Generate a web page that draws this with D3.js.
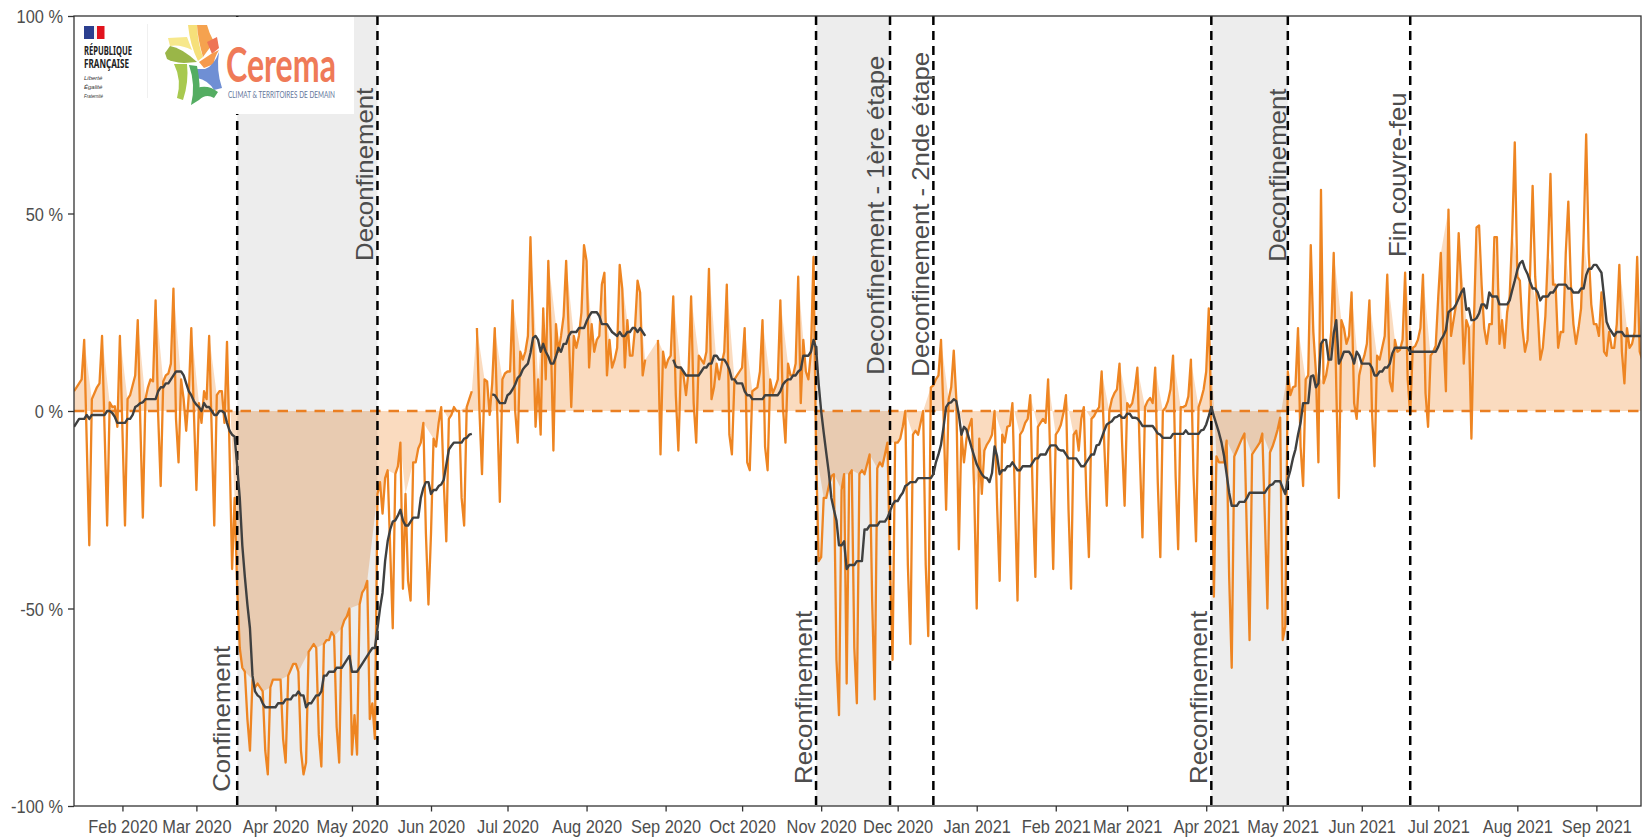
<!DOCTYPE html>
<html><head><meta charset="utf-8">
<script src="https://cdn.jsdelivr.net/npm/d3@7"></script>
<style>html,body{margin:0;padding:0;background:#fff;overflow:hidden}svg{display:block}text{font-family:"Liberation Sans",Arial,sans-serif}</style>
</head><body><svg id="c" width="1643" height="838"></svg>
<script>
const firstDay = Date.UTC(2020,0,13);
const lastDay = Date.UTC(2021,8,18,12);
// daily values, one line per week (Monday to Sunday), starting Monday 13 Jan 2020
const orangeValues = [
5,6,7,8,18,-8,-34,
3,4.5,6,7,19,-5,-29,
2.2,1,1.2,-4,19,-5,-29,
3,4,6.5,9,23,-3,-27,
3,6,8,7.5,28,-1,-19,
7.5,9,9.5,12,31,-2,-13,
8,3,-5,4,21,0,-20,
2,-3,5,3,19,-5,-29,
4,5,5,-3,17.5,-10,-40,
-22,-45,-60,-65,-66,-78,-86,
-68,-70,-69,-70,-71,-86,-92,
-70,-68,-68,-68,-68,-83,-89,
-67,-65.5,-64,-64,-66,-86,-92,
-89,-61,-60,-59,-60,-82,-90,
-59,-58,-58,-56,-57,-80,-89,
-55,-53,-52,-50,-87,-77,-87,
-49,-46,-45,-43,-78,-74,-83,
-21,-18,-26,-17,-15,-35,-55,
-16,-14,-8,-45,-21,-43,-48,
-13,-13,-9.5,-8,-3,-31,-49,
-31,-7,-9,-3,1,-18,-33,
-2,-1,1,0,0,-22,-29,
1,3,5,null,21,0,-16,
8,7.5,-1,7,21,-1,-23,
8,9.5,10,10,28,0,-8,
15,13,15,19,44,20,-4,
8,-6,26,8,38,18,-10,
22,15,19,24,38,20,1,
19,16,19,25,42,38,11,
22,15,18,19,32,35,9,
18,11,13,16,37,31,11,
23,14,14,21,33,30,9,
13,null,null,null,null,18,-11,
15,11,13,14,29,4,-10,
11,9,4,10,29,2,-8,
14,13,12,15,36,3,6,
12,8,12,15,32,-6,-11,
8,9,10,11,21,-13,-15,
5,5.5,6,10,23,-9,-15,
8,4.5,6,8,28,1,-8,
12,9,9,12,34,2,18,
10,8,15,39,-10,-38,-37,
-22,-22,-19,-16.5,-16,-63,-77,
-20,-16,-69,-16,-15,-60,-74,
-16,-15,-16,-13.5,-11,-48,-73,
-14.5,-13,-14,-11,-8,-39,-63,
-8,-8,-7,-4,0,-39,-59,
-6,-5,-6,-3,0,-39,-57,
6,6.5,8,9,18,-1,-25,
3,6,15.3,3,-35,-5.5,-13,
-7,-4,-2,-20,-50,-7,-21,
-10,-8.5,-7.5,-6,0,-24,-43,
-6,-8,-4,-3.7,2,-22.5,-48,
-6,-5,-3,-2,4,-22,-42,
-4,-3,-2,-3,8,-16,-40,
-6,-5,-3.5,-0.5,4,-25,-45,
-6,-5,-10,-2,1,-21.5,-37,
-2,-1.3,0,1,10,-8,-24,
0,3,4.5,5.5,12,-8,-24,
2,1,2,5.5,11,-12,-32,
1,2.5,3.3,2,11,-18,-37,
0,0.8,2.5,5.5,14,-16.5,-35,
1,1,1.4,3.7,13,-16,-33,
1,3,5.5,10,26,-4,-47,
-11.5,-13,-13,-13,-7.5,-42,-65,
-11.5,-10,-8.5,-7,-5.7,-33,-58,
-11,-10,-9,-8,-5.7,-27,-50,
-10.5,-9,-7,-4.7,-1.7,-58,-54.5,
10,4,6,6.3,21,-9,-19,
8,9,42,20,10,-13,56,
7,9,13,20,40,6,-22,
23,21,17,19,30,2,-2,
9,12,14,17,28,0,-14,
14,13,16,19,34.5,7.5,5,
18,15,15.5,18,35,8,-1,
16,16.5,18,21,34.5,4.5,-4,
14,15,16.5,29,40,19,5,
51,19,23,27,45,32,12,
23,21,-7,23,46.5,47,32,
21,17,22,22,44,44,17,
23,16,25,29,45,68,34,
33,21,15,18,35,57,34,
25,13,16,24,40,60,32,
32,16,20,20,40,53,32,
22,17,21,26,44,70,40,
27,22,22,19,30,15,14,
20,16,16,22,37,15,7,
21,16,17,20,39,15,13
];
const blackValues = [
-4,-3,-2,-2,-2,-1,-2,
-1,-1,-1,-1,-1,-1,0,
0,-0.5,-1.5,-3,-3,-3,-3,
-2,-2,-1,1,1.4,2,2.2,
3,3,3,3,3,5,6,
6,7,7,8,9,10,10,
10,9,7,5,4,2.5,1.6,
1,0,2,1,1,0,-1,
-1,0,0,-0.5,-3,-5,-6,
-6.5,-14,-22,-34,-42,-49,-55,
-67,-71,-72,-72.5,-74,-75,-75,
-75,-75,-75,-74,-74,-74,-73,
-73,-73,-72,-72,-71,-72,-72,
-75,-74,-74,-73,-72,-72,-71,
-67,-67,-66,-66,-66,-65,-65,
-65,-64,-63,-62,-66,-66,-66,
-65,-64,-63,-62,-61,-60,-60,
-55,-50,-46,-38,-33,-30,-28,
-27.7,-26.5,-25,-27.7,-29,-29,-28,
-27,-27,-27,-22,-19.5,-18,-18,
-21,-20,-20,-19,-18.6,-17.4,-13.6,
-9.8,-8.8,-8,-8,-8,-8,-7,
-6.8,-6,-5.8,null,null,null,null,
null,null,null,4.2,4,3,2,
2,2,4,4.5,5.5,6.7,8.4,
9,10.5,11.3,12,14.7,18.5,19,
18,15,17,15,13.8,12,12,
13.8,16,15,17,17,19,20,
20,20,21,21,21,22.7,24,
25,25,25,24,22,22,22,
21,20,19.5,19,20,19,19,
20,20,21,21,20,21,20,
19,null,null,null,null,null,null,
null,null,null,null,13,11.3,11,
11,10,9,9,9,9,9,
9,10,11,11,12,12,14,
14,13,13,13,12,10.5,8,
8,7,7,7,5,4,4,
3,3,3,3,3,4,4,
4,4,4,4,5,6.7,7.5,
8,8,9,9,10,10.5,14,
14,14,15,18,16,7,0,
-5.5,-10.6,-15.6,-22,-25,-27.7,-34,
-34,-33,-40,-39,-39,-39,-38,
-38,-38,-30,-30,-29,-29,-29,
-29,-28,-28,-28,-27,-25.4,-23.7,
-22.8,-22.8,-21.6,-20.7,-19,-18.6,-18,
-18,-18,-17,-17,-17,-17,-17,
-17,-16,-13,-11,-8.5,-4,1,
2,2.2,3,2.5,-1,-6,-4,
-4.7,-7,-9.3,-11.4,-13.5,-14.8,-16,
-16.8,-17,-18,-15.7,-9,-11.5,-16,
-15,-15,-14,-14,-13,-14,-15,
-15,-14,-14,-14,-14,-13,-12,
-12,-11,-11,-11,-9.7,-8.7,-8.7,
-8.7,-9.7,-10,-10,-11,-12,-12,
-12,-12,-13,-14,-14,-13,-12,
-11,-11,-8.7,-8.5,-6.8,-5,-3.4,
-3,-2.6,-1.7,-1.5,-1,-1.7,-1.7,
-0.7,-0.7,-1.7,-1.7,-1.9,-2.7,-3.8,
-3.8,-3.8,-3.8,-3.8,-4.7,-5.7,-6,
-6.8,-6.8,-6.8,-6.8,-5.8,-5.8,-5.8,
-5.8,-5.8,-4.9,-5.8,-5.8,-5.8,-5.8,
-5.8,-4.9,-4.7,-3.4,-1.3,1,-1.3,
-3.4,-5.5,-8,-11.4,-16,-20.7,-24,
-24,-24,-23,-23,-23,-22,-20.7,
-20.7,-20.7,-20.7,-20.7,-20.7,-20.7,-19.6,
-18.8,-18.6,-17.8,-17.8,-17.8,-19.5,-21,
-17.3,-15,-12,-9.7,-6,-3,2,
2,2,8.7,9,6,7,17,
18,18,13,13,19.7,23,12,
13.3,15,15,15,14,12,15,
14,12,12,12,12,11,9,
9,10,10,11,11,12,14.6,
16,16,16,16,16,16,15,
15,15,15,15,15,15,15,
15,15,15,16.3,18,19,20.5,
25,25.6,26,27,28.5,30,31,
25.6,26,23,23,23.5,24.7,27,
27,26,30,29,29,29,27,
27,27,27,28,30.6,33,35.7,
37.4,38,36,34.7,32.7,31,31,
30,28,29,29,29,30,30,
31,32,32,32,32,31,31,
30,30,30,31,31,34.4,36,
36,37,37,36,35,29,22.6,
21,20,19,20,20,20,19,
19,19,19,19,19,19,19
];
// days left out of the shaded ribbon, besides week-ends
const fillSkipDays = ["2020-04-13","2020-05-01","2020-05-08","2020-05-21","2020-06-01","2020-07-14","2020-11-11","2020-12-25","2021-01-01","2021-05-13","2021-07-14"];
const fillKeepDays = ["2020-08-29","2021-09-18","2021-09-19"];
const shadedFrom = ["2020-03-17","2020-10-30","2021-04-03"];
const shadedTo = ["2020-05-11","2020-11-28","2021-05-03"];
const eventDays = ["2020-03-17","2020-05-11","2020-10-30","2020-11-28","2020-12-15","2021-04-03","2021-05-03","2021-06-20"];
const eventLabels = ["Confinement","Deconfinement","Reconfinement","Deconfinement - 1ère étape","Deconfinement - 2nde étape","Reconfinement","Deconfinement","Fin couvre-feu"];
const eventLabelFoot = [-96.4,38.0,-94.4,9.2,8.7,-94.4,37.8,39];
const eventLabelGap = [7.5,4.5,4.5,6.5,4.5,4.5,2,4.5];
const yTicks = [-100,-50,0,50,100];
const xTickLabels = ["Feb 2020","Mar 2020","Apr 2020","May 2020","Jun 2020","Jul 2020","Aug 2020","Sep 2020","Oct 2020","Nov 2020","Dec 2020","Jan 2021","Feb 2021","Mar 2021","Apr 2021","May 2021","Jun 2021","Jul 2021","Aug 2021","Sep 2021"];

const L=74,R=1641,T=16,B=806;
const day = s => new Date(s+"T00:00:00Z");
const iso = d3.utcFormat("%Y-%m-%d");
const fmt = d3.utcFormat("%b %Y"), parseM = d3.utcParse("%b %Y");
const x = d3.scaleUtc().domain([firstDay,lastDay]).range([L,R]);
const y = d3.scaleLinear().domain([-100,100]).range([B,T]);
const days = orangeValues.map((_,i)=>d3.utcDay.offset(new Date(firstDay),i));
const svg = d3.select("#c");
svg.append("defs").append("clipPath").attr("id","p").append("rect").attr("x",L).attr("y",T).attr("width",R-L).attr("height",B-T);
const plot = svg.append("g").attr("clip-path","url(#p)");

const orangeLine = "#ee8522", darkLine="#3f4040";
const ribbon = days.map((d,i)=>({d,v:orangeValues[i]})).filter(o=>{
  if(o.v==null) return false;
  const k=iso(o.d), w=o.d.getUTCDay();
  if(fillKeepDays.includes(k)) return true;
  return w!==0 && w!==6 && !fillSkipDays.includes(k);
});
plot.append("path").attr("d",d3.area().x(o=>x(o.d)).y0(y(0)).y1(o=>y(o.v))(ribbon)).attr("fill","#f0882a").attr("fill-opacity",.3);
plot.selectAll("rect.g").data(shadedFrom).join("rect").attr("class","g")
  .attr("x",d=>x(day(d))).attr("width",(d,i)=>x(day(shadedTo[i]))-x(day(d))).attr("y",T).attr("height",B-T)
  .attr("fill","#000").attr("fill-opacity",.07);
const line = vals => d3.line().defined((_,i)=>vals[i]!=null).x((_,i)=>x(days[i])).y((_,i)=>y(vals[i]))(days);
plot.append("path").attr("d",line(orangeValues)).attr("fill","none").attr("stroke",orangeLine).attr("stroke-width",2.3).attr("stroke-linejoin","round");
plot.append("line").attr("x1",L).attr("x2",R).attr("y1",y(0)).attr("y2",y(0)).attr("stroke","#ea7f22").attr("stroke-width",2.5).attr("stroke-dasharray","10.5 8");
plot.selectAll("line.v").data(eventDays).join("line").attr("class","v")
  .attr("x1",d=>x(day(d))).attr("x2",d=>x(day(d))).attr("y1",T).attr("y2",B)
  .attr("stroke","#000").attr("stroke-width",2.5).attr("stroke-dasharray","9 6");
plot.append("path").attr("d",line(blackValues)).attr("fill","none").attr("stroke",darkLine).attr("stroke-width",2.4).attr("stroke-linejoin","round");

// axes
const ax = svg.append("g").attr("transform",`translate(0,${B})`)
  .call(d3.axisBottom(x).tickValues(xTickLabels.map(parseM)).tickFormat(fmt).tickSizeOuter(0).tickSize(5.5));
const ay = svg.append("g").attr("transform",`translate(${L},0)`)
  .call(d3.axisLeft(y).tickValues(yTicks).tickFormat(d=>d+" %").tickSizeOuter(0).tickSize(6));
[ax,ay].forEach(a=>{a.select(".domain").remove();a.selectAll("line").attr("stroke","#333").attr("stroke-width",1.3);
  a.selectAll("text").attr("fill","#4d4d4d").style("font-size","16.4px").style("font-family",'"Liberation Sans",Arial,sans-serif');});
ax.selectAll("text").attr("y",0).attr("dy",0).attr("transform","translate(0,27) scale(1,1.17)");
ay.selectAll("text").attr("x",0).attr("dy",0).attr("transform","translate(-11,6.5) scale(1,1.17)");
svg.append("rect").attr("x",L).attr("y",T).attr("width",R-L).attr("height",B-T).attr("fill","none").attr("stroke","#333").attr("stroke-width",1.3);

// event labels
svg.selectAll("text.ev").data(eventLabels).join("text").attr("class","ev").text(d=>d)
  .attr("transform",(d,i)=>`translate(${x(day(eventDays[i]))-eventLabelGap[i]},${y(eventLabelFoot[i])}) scale(1.07,1.17) rotate(-90)`)
  .attr("fill","#4d4d4d").style("font-size","22px");

// logo block
const logo = svg.append("g");
logo.append("rect").attr("x",75).attr("y",17).attr("width",279).attr("height",97).attr("fill","#fff");
logo.append("rect").attr("x",84).attr("y",26).attr("width",10).attr("height",13).attr("fill","#2b3f8f");
logo.append("rect").attr("x",94).attr("y",26).attr("width",3).attr("height",13).attr("fill","#f4f4f4");
logo.append("rect").attr("x",97).attr("y",26).attr("width",7.5).attr("height",13).attr("fill","#e1131d");
logo.append("line").attr("x1",147.5).attr("x2",147.5).attr("y1",24).attr("y2",98).attr("stroke","#f0f0f0");
const t=(s,xx,yy,fs,c,o={})=>{const e=logo.append("text").text(s).attr("x",xx).attr("y",yy).attr("fill",c).style("font-size",fs+"px");
  if(o.w) e.attr("textLength",o.w).attr("lengthAdjust","spacingAndGlyphs");
  if(o.b) e.style("font-weight",o.b); if(o.f) e.style("font-family",o.f); if(o.i) e.style("font-style","italic");return e;};
t("RÉPUBLIQUE",84,55,12,"#222",{w:48,b:700,f:'"Noto Sans",sans-serif'});
t("FRANÇAISE",84,68,12,"#222",{w:45,b:700,f:'"Noto Sans",sans-serif'});
t("Liberté",84,80,6,"#333",{i:1});t("Égalité",84,89,6,"#333",{i:1});t("Fraternité",84,98,6,"#333",{i:1,w:19});
t("Cerema",226,82,48,"#ef7a58",{w:110,b:700,f:'Lato,sans-serif'});
t("CLIMAT & TERRITOIRES DE DEMAIN",228,98,10,"#66779c",{w:107,f:'Lato,sans-serif'});
const petals=[
["M168,38 L187,37 L192,50 Q180,44 170,46 Z","#f7e88c"],
["M188,25 L197,25 Q198,45 203,57 L198,61 Q190,45 188,25 Z","#f6e07a"],
["M197,25 L207,25 Q209,33 214,42 L203,57 Q198,40 197,25 Z","#f5a24f"],
["M207,42 L217,37 L219,48 L212,54 Z","#ee7456"],
["M199,62 L211,54 L219,50 Q214,58 214,64 L204,68 Z","#f59a4d"],
["M197,69 L205,69 Q214,66 219,52 Q216,70 222,88 L214,90 Q208,80 197,78 Z","#6f8fd4"],
["M165,53 L170,46 Q182,48 197,62 L184,63 Q172,62 167,59 Z","#9ab648"],
["M174,64 L187,64 Q189,82 183,100 L177,98 Q182,80 174,64 Z","#a8c94f"],
["M189,65 L197,66 Q201,85 199,100 L191,105 Q196,85 189,65 Z","#54ad62"],
["M197,88 Q208,84 218,92 L214,98 Q206,93 199,100 Z","#54ad62"]
];
logo.selectAll("path.pt").data(petals).join("path").attr("class","pt").attr("d",d=>d[0]).attr("fill",d=>d[1]);
</script></body></html>
